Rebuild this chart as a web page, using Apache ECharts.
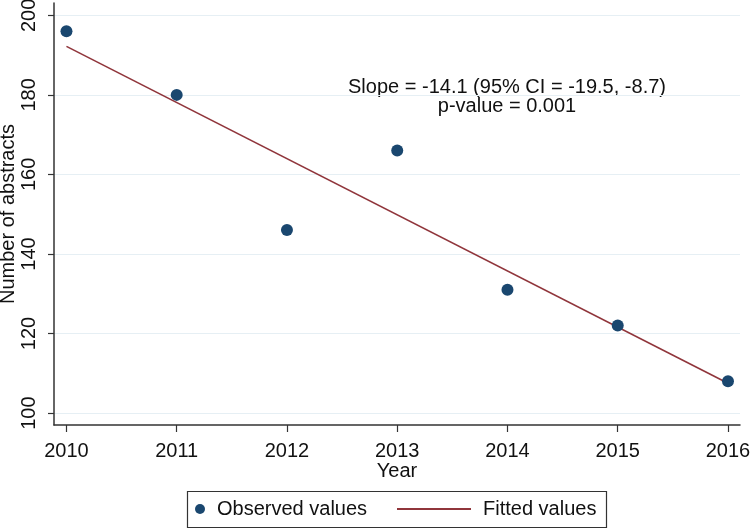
<!DOCTYPE html>
<html>
<head>
<meta charset="utf-8">
<script src="https://cdn.jsdelivr.net/npm/echarts@6/dist/echarts.min.js"></script>
<style>
html,body{margin:0;padding:0;background:#fff;}
#chart{width:750px;height:529px;}
</style>
</head>
<body>
<div id="chart"></div>
<script>
// Data
var years = [2010, 2011, 2012, 2013, 2014, 2015, 2016];
var observed = [196, 180, 146, 166, 131, 122, 108];
var fittedYears = [2010, 2016];
var fittedValues = [192.2, 107.5];
var yTicks = [100, 120, 140, 160, 180, 200];
var xTicks = [2010, 2011, 2012, 2013, 2014, 2015, 2016];
var annotation = ['Slope = -14.1 (95% CI = -19.5, -8.7)', 'p-value = 0.001'];

var FONT = 'Liberation Sans, Arial, sans-serif';
var AXIS = '#333333';
var FS = 20;

var chart = echarts.init(document.getElementById('chart'), null, {renderer: 'canvas'});
chart.setOption({
  animation: false,
  backgroundColor: '#ffffff',
  textStyle: {fontFamily: FONT},
  grid: {left: 54, right: 10, top: 3, bottom: 104, containLabel: false, outerBoundsMode: 'none'},
  xAxis: {
    type: 'value',
    min: 2009.887,
    max: 2016.109,
    name: 'Year',
    nameLocation: 'middle',
    nameGap: 36,
    nameMoveOverlap: false,
    nameTextStyle: {fontSize: FS, color: '#111', fontFamily: FONT},
    axisLine: {show: true, lineStyle: {color: AXIS, width: 1.5}},
    axisTick: {show: true, length: 7, lineStyle: {color: AXIS, width: 1.2}, customValues: xTicks},
    axisLabel: {customValues: xTicks, fontSize: FS, color: '#111', margin: 16, fontFamily: FONT,
      formatter: function (v) { return String(v); }},
    splitLine: {show: false}
  },
  yAxis: {
    type: 'value',
    min: 97,
    max: 203.1,
    name: 'Number of abstracts',
    nameLocation: 'middle',
    nameGap: 36,
    nameMoveOverlap: false,
    nameRotate: 90,
    nameTextStyle: {fontSize: FS, color: '#111', fontFamily: FONT},
    axisLine: {show: true, lineStyle: {color: AXIS, width: 1.5}},
    axisTick: {show: true, length: 6, lineStyle: {color: AXIS, width: 1.2}, customValues: yTicks},
    axisLabel: {customValues: yTicks, rotate: 90, fontSize: FS, color: '#111', margin: 15, fontFamily: FONT},
    splitLine: {show: true, lineStyle: {color: '#e6eff4', width: 1.2}}
  },
  legend: [
    {
      data: [{name: 'Observed values', icon: 'circle'}],
      left: 195, top: 499, padding: 0,
      itemWidth: 10, itemHeight: 10, itemGap: 0,
      textStyle: {fontSize: FS, color: '#111', fontFamily: FONT, padding: [0, 0, 0, 7]},
      selectedMode: false
    },
    {
      data: [{name: 'Fitted values', icon: 'rect', itemStyle: {color: '#90353b'}}],
      left: 397, top: 499, padding: 0,
      itemWidth: 74, itemHeight: 2, itemGap: 0,
      textStyle: {fontSize: FS, color: '#111', fontFamily: FONT, padding: [0, 0, 0, 7]},
      selectedMode: false
    }
  ],
  graphic: [
    {
      type: 'rect',
      shape: {x: 187.5, y: 491.5, width: 419, height: 36},
      style: {fill: 'none', stroke: '#333', lineWidth: 1.2},
      silent: true
    },
    {
      type: 'text',
      x: 507, y: 78,
      style: {
        text: annotation.join('\n'),
        font: '20px ' + FONT,
        fill: '#111',
        align: 'center',
        verticalAlign: 'top',
        lineHeight: 19
      },
      silent: true
    }
  ],
  series: [
    {
      name: 'Observed values',
      type: 'scatter',
      symbol: 'circle',
      symbolSize: 12,
      itemStyle: {color: '#1a476f', opacity: 1},
      data: years.map(function (y, i) { return [y, observed[i]]; }),
      z: 3
    },
    {
      name: 'Fitted values',
      type: 'line',
      showSymbol: false,
      symbol: 'none',
      lineStyle: {color: '#90353b', width: 1.6},
      itemStyle: {color: '#90353b'},
      data: fittedYears.map(function (y, i) { return [y, fittedValues[i]]; }),
      z: 2
    }
  ]
});
</script>
</body>
</html>
